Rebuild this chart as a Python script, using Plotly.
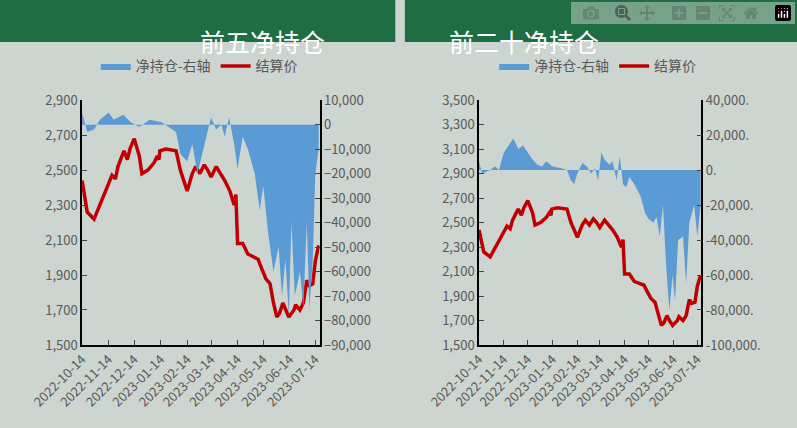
import plotly.graph_objects as go

# 结算价 (shared by both panels)
price_dates = ["2022-10-14", "2022-10-20", "2022-10-28", "2022-11-04", "2022-11-10", "2022-11-18",
               "2022-11-22", "2022-11-25", "2022-12-02", "2022-12-06", "2022-12-09", "2022-12-14",
               "2022-12-20", "2022-12-23", "2022-12-30", "2023-01-06", "2023-01-10", "2023-01-12",
               "2023-01-13", "2023-01-20", "2023-02-01", "2023-02-06", "2023-02-10", "2023-02-14",
               "2023-02-20", "2023-02-24", "2023-03-01", "2023-03-06", "2023-03-10", "2023-03-14",
               "2023-03-20", "2023-03-24", "2023-03-30", "2023-04-05", "2023-04-10", "2023-04-12",
               "2023-04-14", "2023-04-20", "2023-04-26", "2023-05-04", "2023-05-08", "2023-05-12",
               "2023-05-17", "2023-05-22", "2023-05-26", "2023-05-30", "2023-06-02", "2023-06-06",
               "2023-06-09", "2023-06-13", "2023-06-19", "2023-06-21", "2023-06-26", "2023-06-30",
               "2023-07-04", "2023-07-07", "2023-07-11", "2023-07-14", "2023-07-18"]
price = [2440, 2260, 2220, 2300, 2380, 2470, 2450, 2520, 2610, 2560, 2620, 2680,
         2580, 2480, 2500, 2540, 2580, 2560, 2610, 2620, 2610, 2500, 2440, 2380,
         2480, 2520, 2480, 2530, 2500, 2460, 2520, 2490, 2440, 2380, 2300, 2360,
         2080, 2080, 2020, 2000, 1990, 1940, 1880, 1850, 1740, 1660, 1680, 1740,
         1700, 1660, 1700, 1730, 1700, 1740, 1870, 1840, 1850, 1980, 2070]

# 前五净持仓
top5_dates = ["2022-10-14", "2022-10-20", "2022-10-28", "2022-11-04", "2022-11-14", "2022-11-20",
              "2022-12-01", "2022-12-10", "2022-12-20", "2023-01-01", "2023-01-15", "2023-02-01",
              "2023-02-06", "2023-02-14", "2023-02-20", "2023-02-26", "2023-03-05", "2023-03-10",
              "2023-03-14", "2023-03-20", "2023-03-26", "2023-03-30", "2023-04-04", "2023-04-10",
              "2023-04-14", "2023-04-20", "2023-04-26", "2023-05-04", "2023-05-10", "2023-05-14",
              "2023-05-20", "2023-05-26", "2023-06-01", "2023-06-05", "2023-06-09", "2023-06-13",
              "2023-06-16", "2023-06-20", "2023-06-26", "2023-06-30", "2023-07-04", "2023-07-07",
              "2023-07-11", "2023-07-14", "2023-07-18"]
top5_net = [5000, -3000, -2000, 2000, 5000, 2000, 4000, 1000, -1000, 2000, 1000, -3000,
            -12000, -15000, -8000, -20000, -10000, -3000, 3000, -2000, 0, -5000, 3000, -8000,
            -18000, -5000, -10000, -20000, -35000, -25000, -45000, -60000, -50000, -70000,
            -55000, -78000, -40000, -70000, -60000, -75000, -40000, -75000, -55000, -20000, -10000]

# 前二十净持仓
top20_dates = ["2022-10-14", "2022-10-18", "2022-10-28", "2022-11-03", "2022-11-08", "2022-11-14",
               "2022-11-20", "2022-11-26", "2022-12-02", "2022-12-08", "2022-12-14", "2022-12-20",
               "2022-12-26", "2023-01-01", "2023-01-06", "2023-01-14", "2023-01-25", "2023-02-01",
               "2023-02-06", "2023-02-10", "2023-02-14", "2023-02-20", "2023-02-26", "2023-03-03",
               "2023-03-08", "2023-03-12", "2023-03-16", "2023-03-20", "2023-03-26", "2023-03-30",
               "2023-04-04", "2023-04-08", "2023-04-12", "2023-04-16", "2023-04-20", "2023-04-26",
               "2023-05-04", "2023-05-10", "2023-05-14", "2023-05-20", "2023-05-24", "2023-05-28",
               "2023-06-01", "2023-06-05", "2023-06-09", "2023-06-13", "2023-06-16", "2023-06-20",
               "2023-06-26", "2023-06-30", "2023-07-04", "2023-07-10", "2023-07-14", "2023-07-18"]
top20_net = [5000, -2000, 0, 2000, 0, 10000, 14000, 18000, 12000, 14000, 10000, 6000,
             3000, 2000, 5000, 2000, 1000, 0, -6000, -8000, -2000, 4000, 2000, -2000,
             1000, -6000, 10000, 6000, 3000, 5000, -6000, 8000, -8000, -10000, -4000, -8000,
             -15000, -25000, -28000, -30000, -27000, -38000, -20000, -55000, -80000, -60000,
             -75000, -40000, -38000, -65000, -30000, -20000, -38000, -20000]

month_ticks = ["2022-10-14", "2022-11-14", "2022-12-14", "2023-01-14", "2023-02-14",
               "2023-03-14", "2023-04-14", "2023-05-14", "2023-06-14", "2023-07-14"]
y20_vals = [40000, 20000, 0, -20000, -40000, -60000, -80000, -100000]

BG = "#ccd5d0"
GREEN = "#1f6e43"
BLUE = "#5b9bd5"
RED = "#c00000"
GRAY = "#595959"
FONT = "Noto Sans CJK SC"

fig = go.Figure()

fig.add_trace(go.Scatter(x=top5_dates, y=top5_net, name="净持仓-右轴", fill="tozeroy",
                         fillcolor=BLUE, line=dict(width=0, color=BLUE), mode="lines",
                         xaxis="x", yaxis="y2", legend="legend"))
fig.add_trace(go.Scatter(x=price_dates, y=price, name="结算价", mode="lines",
                         line=dict(color=RED, width=3.5), xaxis="x", yaxis="y", legend="legend"))
fig.add_trace(go.Scatter(x=top20_dates, y=top20_net, name="净持仓-右轴", fill="tozeroy",
                         fillcolor=BLUE, line=dict(width=0, color=BLUE), mode="lines",
                         xaxis="x2", yaxis="y4", legend="legend2"))
fig.add_trace(go.Scatter(x=price_dates, y=price, name="结算价", mode="lines",
                         line=dict(color=RED, width=3.5), xaxis="x2", yaxis="y3", legend="legend2"))

xcommon = dict(type="date", range=["2022-10-14", "2023-07-19"], tickvals=month_ticks,
               tickformat="%Y-%m-%d", tickangle=-45, ticks="inside", ticklen=5,
               showline=True, linecolor="black", linewidth=1.5, showgrid=False,
               tickfont=dict(color=GRAY, size=13), automargin=False)
ydom = [0.194, 0.766]
ycommon = dict(ticks="inside", ticklen=5, showline=True, linecolor="black", linewidth=1.5,
               showgrid=False, zeroline=False, tickfont=dict(color=GRAY, size=13),
               domain=ydom, tickformat=",", automargin=False)

fig.update_layout(
    width=797, height=428, margin=dict(l=0, r=0, t=0, b=0, autoexpand=False),
    paper_bgcolor=BG, plot_bgcolor=BG, font=dict(family=FONT, color=GRAY),
    xaxis=dict(xcommon, domain=[0.103, 0.401], anchor="y"),
    yaxis=dict(ycommon, range=[1500, 2900], tick0=1500, dtick=200, anchor="x"),
    yaxis2=dict(ycommon, range=[-90000, 10000], dtick=10000, overlaying="y",
                side="right", anchor="x"),
    xaxis2=dict(xcommon, domain=[0.601, 0.880], anchor="y3"),
    yaxis3=dict(ycommon, range=[1500, 3500], tick0=1500, dtick=200, anchor="x2"),
    yaxis4=dict(ycommon, range=[-100000, 40000], overlaying="y3", side="right", anchor="x2",
                tickvals=y20_vals, ticktext=[f"{v:,}." for v in y20_vals]),
    legend=dict(orientation="h", x=0.25, y=0.845, xanchor="center", yanchor="middle",
                bgcolor="rgba(0,0,0,0)", font=dict(size=14, color=GRAY)),
    legend2=dict(orientation="h", x=0.75, y=0.845, xanchor="center", yanchor="middle",
                 bgcolor="rgba(0,0,0,0)", font=dict(size=14, color=GRAY)),
    shapes=[
        dict(type="rect", xref="paper", yref="paper", x0=0, x1=0.496, y0=0.902, y1=1,
             fillcolor=GREEN, line=dict(width=0), layer="below"),
        dict(type="rect", xref="paper", yref="paper", x0=0.508, x1=1, y0=0.902, y1=1,
             fillcolor=GREEN, line=dict(width=0), layer="below"),
    ],
    annotations=[
        dict(text="前五净持仓", xref="paper", yref="paper", x=0.248, y=0.951, showarrow=False,
             font=dict(size=25, color="white", family=FONT)),
        dict(text="前二十净持仓", xref="paper", yref="paper", x=0.754, y=0.951, showarrow=False,
             font=dict(size=25, color="white", family=FONT)),
    ],
)

fig.write_html("out.html", post_script="document.body.style.margin='0';")
